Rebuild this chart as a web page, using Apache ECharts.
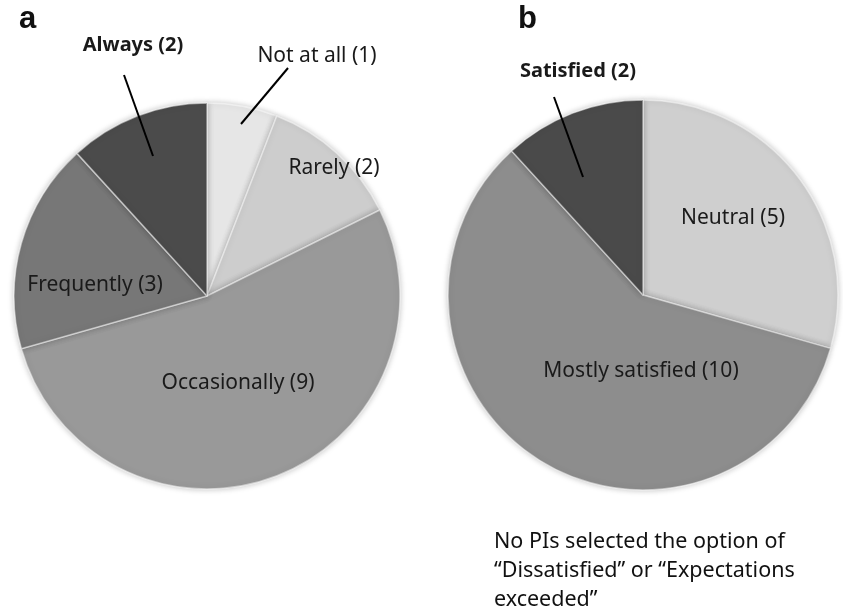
<!DOCTYPE html>
<html>
<head>
<meta charset="utf-8">
<script src="https://cdn.jsdelivr.net/npm/echarts@6/dist/echarts.min.js"></script>
<style>
  html, body { margin: 0; padding: 0; background: #fff; }
  #chart { width: 843px; height: 611px; }
</style>
</head>
<body>
<div id="chart"></div>
<script>
// panel a: how often
var freqNames = ['Not at all (1)', 'Rarely (2)', 'Occasionally (9)', 'Frequently (3)', 'Always (2)'];
var freqValues = [1, 2, 9, 3, 2];
var freqColors = ['#e6e6e6', '#cdcdcd', '#999999', '#777777', '#4b4b4b'];

// panel b: satisfaction
var satNames = ['Neutral (5)', 'Mostly satisfied (10)', 'Satisfied (2)'];
var satValues = [5, 10, 2];
var satColors = ['#cfcfcf', '#8d8d8d', '#4a4a4a'];

// label spots (px) per slice
var freqSpots = [[317, 56], [334, 168], [238, 383], [95, 285], [133, 45]];
var freqBold = [false, false, false, false, true];
var satSpots = [[733, 218], [641, 371], [578, 71]];
var satBold = [false, false, true];

// leader lines for the small slices (label end -> inside slice)
var leaders = [
	[[288, 68], [241, 124]],
	[[124, 75], [153, 156]],
	[[554, 97], [583, 177]]
];

function buildData(names, values, colors, bold) {
	var out = [];
	for (var i = 0; i < names.length; i++) {
		out.push({
			name: names[i],
			value: values[i],
			itemStyle: { color: colors[i] },
			label: {
				fontWeight: bold[i] ? 'bold' : 'normal',
				fontSize: bold[i] ? 20 : 21
			}
		});
	}
	return out;
}

function pieSeries(center, radius, data, spots) {
	return {
		type: 'pie',
		center: center,
		radius: radius,
		startAngle: 90,
		clockwise: true,
		avoidLabelOverlap: false,
		silent: true,
		itemStyle: {
			borderColor: 'rgba(255,255,255,0.5)',
			borderWidth: 1.5,
			shadowBlur: 6,
			shadowColor: 'rgba(0,0,0,0.25)'
		},
		label: {
			show: true,
			position: 'inside',
			formatter: '{b}',
			color: '#1a1a1a',
			fontFamily: 'Noto Sans',
			fontSize: 21
		},
		labelLine: { show: false },
		labelLayout: function(params) {
			var i = params.dataIndex;
			return {
				x: spots[i][0],
				y: spots[i][1],
				align: 'center',
				verticalAlign: 'middle'
			};
		},
		data: data
	};
}

var graphics = [
	{ type: 'text', left: 19, top: 4, style: { text: 'a', font: 'bold 31px "Liberation Sans", Arial', fill: '#111' } },
	{ type: 'text', left: 518, top: 4, style: { text: 'b', font: 'bold 31px "Liberation Sans", Arial', fill: '#111' } },
	{
		type: 'text', left: 494, top: 527,
		style: {
			text: 'No PIs selected the option of\n\u201cDissatisfied\u201d or \u201cExpectations\nexceeded\u201d',
			font: '21.5px "Noto Sans"',
			lineHeight: 29,
			fill: '#111'
		}
	}
];
leaders.forEach(function(p) {
	graphics.push({
		type: 'line',
		z: 100,
		shape: { x1: p[0][0], y1: p[0][1], x2: p[1][0], y2: p[1][1] },
		style: { stroke: '#000', lineWidth: 2 }
	});
});

var chart = echarts.init(document.getElementById('chart'));
chart.setOption({
	animation: false,
	graphic: graphics,
	series: [
		pieSeries([207, 296], 193, buildData(freqNames, freqValues, freqColors, freqBold), freqSpots),
		pieSeries([643, 295], 195, buildData(satNames, satValues, satColors, satBold), satSpots)
	]
});
</script>
</body>
</html>
